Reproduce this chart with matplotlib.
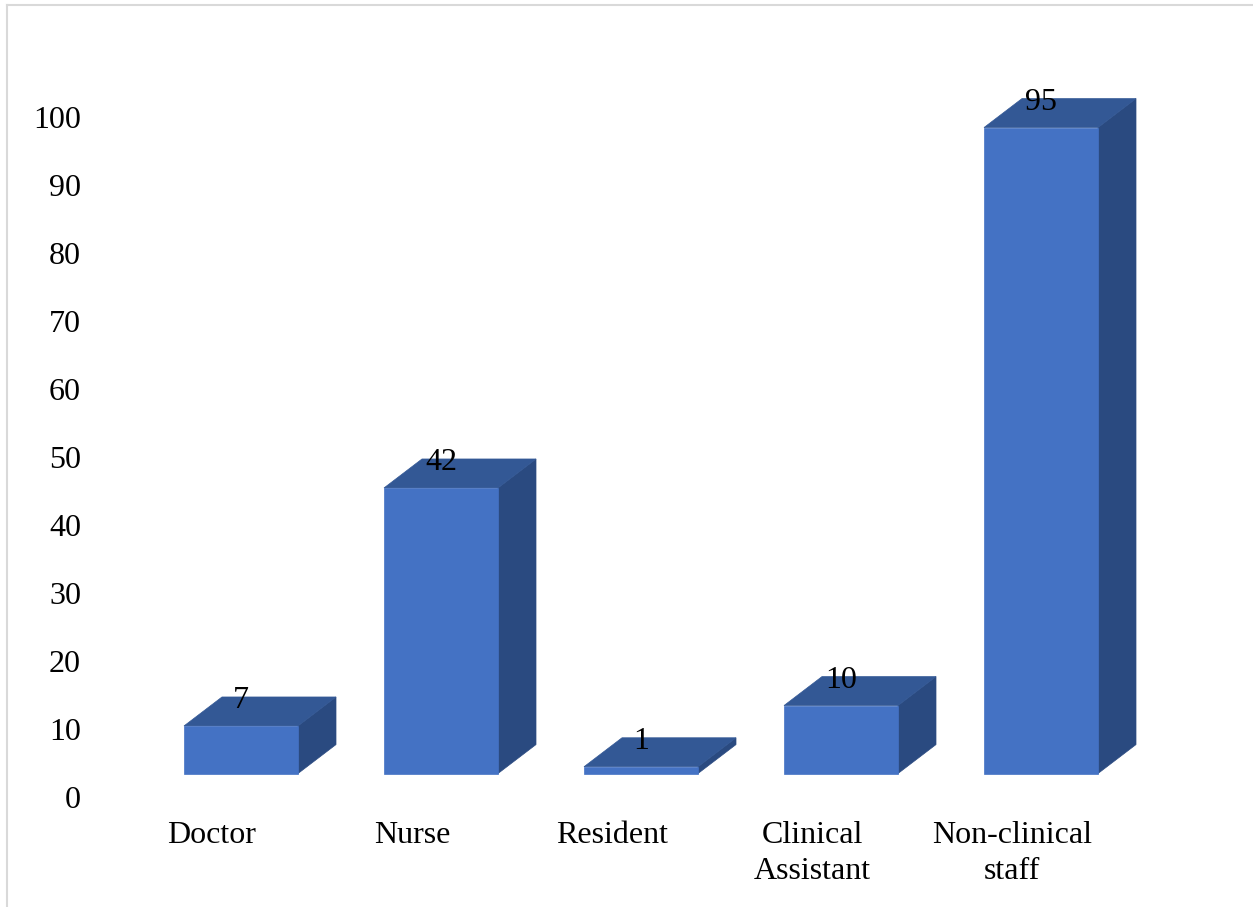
import matplotlib
matplotlib.use("Agg")
import matplotlib.pyplot as plt
from matplotlib.patches import Rectangle, Polygon
from matplotlib.lines import Line2D

# Staff categories and counts
categories = ["Doctor", "Nurse", "Resident", "Clinical\nAssistant", "Non-clinical\nstaff"]
counts = [7, 42, 1, 10, 95]
y_ticks = [0, 10, 20, 30, 40, 50, 60, 70, 80, 90, 100]

plt.rcParams["font.family"] = ["Liberation Serif", "DejaVu Serif"]
FS = 23

FRONT = "#4472C4"
TOP = "#335895"
SIDE = "#2A4A80"

W_PX, H_PX, DPI = 1253, 907, 100
fig = plt.figure(figsize=(W_PX / DPI, H_PX / DPI), dpi=DPI)

# axes placed so that the value scale spans the plot area
ax_left_px, ax_bottom_px, ax_top_px = 95, 797, 49
ax = fig.add_axes([ax_left_px / W_PX, 1 - ax_bottom_px / H_PX,
                   1 - ax_left_px / W_PX, (ax_bottom_px - ax_top_px) / H_PX])
ax.set_ylim(0, 110)
ax.set_xlim(-0.73, 5.06)

# 3-D box styling
bar_w = 0.57      # front face width (category units)
depth_x = 0.19    # receding offset along x
depth_y = 4.26    # receding offset along y (value units)
floor = 3.45      # front face baseline

for i, v in enumerate(counts):
    x0, x1 = i - bar_w / 2, i + bar_w / 2
    top = floor + v
    # side face
    ax.add_patch(Polygon([(x1, floor), (x1 + depth_x, floor + depth_y),
                          (x1 + depth_x, top + depth_y), (x1, top)],
                         closed=True, facecolor=SIDE, edgecolor=SIDE,
                         linewidth=0.5, clip_on=False))
    # top face
    ax.add_patch(Polygon([(x0, top), (x1, top), (x1 + depth_x, top + depth_y),
                          (x0 + depth_x, top + depth_y)],
                         closed=True, facecolor=TOP, edgecolor=TOP,
                         linewidth=0.5, clip_on=False))
    # front face
    ax.add_patch(Rectangle((x0, floor), bar_w, v, facecolor=FRONT,
                           edgecolor=FRONT, linewidth=0.5, clip_on=False))
    # value label
    ax.text(i, top + depth_y, f"{v}", ha="center", va="center_baseline",
            fontsize=FS, color="black", clip_on=False)

ax.set_yticks(y_ticks)
ax.set_yticklabels([str(t) for t in y_ticks], fontsize=FS)
ax.set_xticks([i - 0.145 for i in range(len(categories))])
ax.set_xticklabels(categories, fontsize=FS, linespacing=1.32)
ax.tick_params(axis="y", length=0, pad=10)
ax.tick_params(axis="x", length=0, pad=17)
for s in ax.spines.values():
    s.set_visible(False)
ax.patch.set_alpha(0)

# outer chart frame (left and top edges)
frame_color = "#d9d9d9"
fig.add_artist(Line2D([7 / W_PX, 7 / W_PX], [0, 1 - 5 / H_PX],
                      transform=fig.transFigure, color=frame_color, linewidth=1.5))
fig.add_artist(Line2D([7 / W_PX, 1], [1 - 5 / H_PX, 1 - 5 / H_PX],
                      transform=fig.transFigure, color=frame_color, linewidth=1.5))

fig.savefig("out.png", dpi=DPI, facecolor="white")
